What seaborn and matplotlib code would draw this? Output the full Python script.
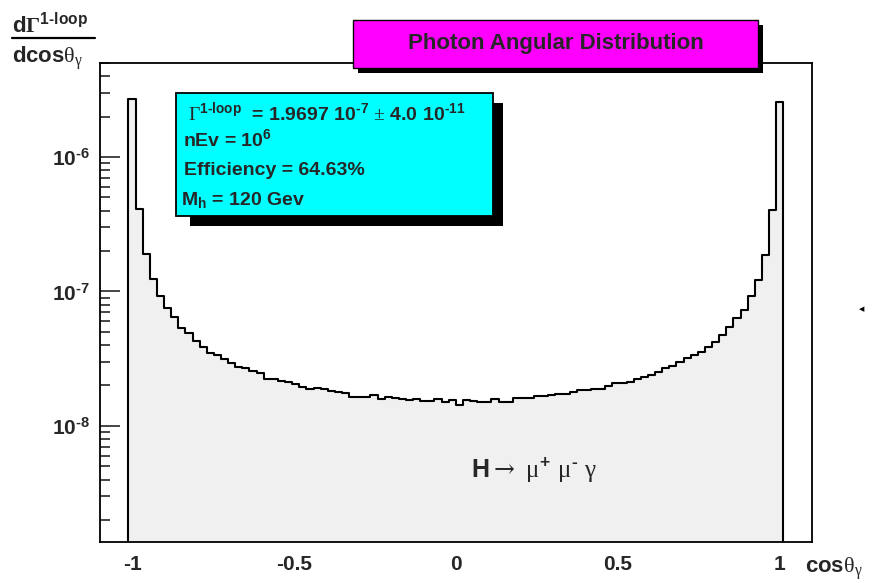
import numpy as np
import pandas as pd
import seaborn as sns
import matplotlib
matplotlib.use("Agg")
import matplotlib.pyplot as plt
from matplotlib.patches import Rectangle
from matplotlib.lines import Line2D
from matplotlib.ticker import FixedLocator, FixedFormatter, NullFormatter

# ---------------- data ----------------
hist_lo, hist_hi = -1.012, 1.012          # range of the filled bins
dgamma = [
    2.70e-6, 4.09e-7, 1.89e-7, 1.23e-7, 9.26e-8, 7.50e-8, 6.43e-8, 5.38e-8, 4.89e-8, 4.29e-8,
    3.89e-8, 3.51e-8, 3.37e-8, 3.13e-8, 2.92e-8, 2.76e-8, 2.69e-8, 2.56e-8, 2.49e-8, 2.22e-8,
    2.22e-8, 2.16e-8, 2.14e-8, 2.04e-8, 1.94e-8, 1.87e-8, 1.91e-8, 1.87e-8, 1.83e-8, 1.79e-8,
    1.77e-8, 1.65e-8, 1.65e-8, 1.65e-8, 1.69e-8, 1.59e-8, 1.65e-8, 1.62e-8, 1.60e-8, 1.56e-8,
    1.59e-8, 1.54e-8, 1.54e-8, 1.59e-8, 1.50e-8, 1.56e-8, 1.43e-8, 1.56e-8, 1.53e-8, 1.50e-8,
    1.50e-8, 1.58e-8, 1.52e-8, 1.52e-8, 1.61e-8, 1.62e-8, 1.62e-8, 1.67e-8, 1.67e-8, 1.69e-8,
    1.72e-8, 1.73e-8, 1.80e-8, 1.85e-8, 1.85e-8, 1.87e-8, 1.88e-8, 1.98e-8, 2.08e-8, 2.10e-8,
    2.14e-8, 2.24e-8, 2.33e-8, 2.39e-8, 2.53e-8, 2.69e-8, 2.79e-8, 3.01e-8, 3.19e-8, 3.37e-8,
    3.57e-8, 3.89e-8, 4.23e-8, 4.75e-8, 5.47e-8, 6.32e-8, 7.29e-8, 9.26e-8, 1.22e-7, 1.87e-7,
    4.04e-7, 2.55e-6,
]
xticks_major = [-1, -0.5, 0, 0.5, 1]
xtick_labels = ["-1", "-0.5", "0", "0.5", "1"]
yticks_major = [1e-8, 1e-7, 1e-6]
ytick_labels = [r"$10^{\text{-}8}$", r"$10^{\text{-}7}$", r"$10^{\text{-}6}$"]
title_text = "Photon Angular Distribution"
stats_lines = [
    r"$\mathsf{\Gamma}^{1\text{-}loop}$  = 1.9697 10$^{\text{-}7}$ $\mathsf{\pm}$ 4.0 10$^{\text{-}11}$",
    r"nEv = 10$^{6}$",
    r"Efficiency = 64.63%",
    r"M$_{h}$ = 120 Gev",
]
process_text = (r"H$\mathtt{\rightarrow}$ $\mathsf{\mu}^{+}$ $\mathsf{\mu}^{\text{-}}$ "
                r"$\mathsf{\gamma}$")

# ---------------- style ----------------
sns.set_style("white")
plt.rcParams["font.family"] = ["Liberation Sans", "DejaVu Sans"]
plt.rcParams["mathtext.fontset"] = "custom"
plt.rcParams["mathtext.rm"] = "Liberation Sans:bold"
plt.rcParams["mathtext.bf"] = "Liberation Sans:bold"
plt.rcParams["mathtext.it"] = "Liberation Sans:bold"
plt.rcParams["mathtext.sf"] = "Liberation Serif:weight=normal"
plt.rcParams["mathtext.tt"] = "DejaVu Serif:weight=normal"
plt.rcParams["mathtext.cal"] = "Liberation Serif:bold"
plt.rcParams["mathtext.default"] = "rm"

W, H = 875, 583
fig = plt.figure(figsize=(W / 100, H / 100), dpi=100)


def fx(x):
    return x / W


def fy(y):
    return 1 - y / H


ax = fig.add_axes([fx(100), fy(542), fx(811.7 - 100), (542 - 63) / H])

n = len(dgamma)
edges = [float(e) for e in np.linspace(hist_lo, hist_hi, n + 1)]
centers = [0.5 * (edges[i] + edges[i + 1]) for i in range(n)]
df = pd.DataFrame({"cos": centers, "w": dgamma})

ax.set_yscale("log")
sns.histplot(data=df, x="cos", weights="w", bins=edges, element="step", fill=True,
             color="#f0f0f0", alpha=1, edgecolor="black", linewidth=1.5, ax=ax)

ax.set_xlim(-1.1, 1.1)
ax.set_ylim(1.372e-9, 5.0e-6)
ax.set_xlabel("")
ax.set_ylabel("")

for s in ax.spines.values():
    s.set_linewidth(1.3)
    s.set_color("black")

ax.xaxis.set_major_locator(FixedLocator(xticks_major))
ax.xaxis.set_major_formatter(FixedFormatter(xtick_labels))
ax.xaxis.set_minor_locator(FixedLocator(np.round(np.arange(-1.0, 1.01, 0.1), 2)))
ax.yaxis.set_major_locator(FixedLocator(yticks_major))
ax.yaxis.set_major_formatter(FixedFormatter(ytick_labels))
ax.yaxis.set_minor_locator(matplotlib.ticker.LogLocator(base=10, subs=np.arange(2, 10), numticks=20))
ax.yaxis.set_minor_formatter(NullFormatter())

ax.tick_params(axis="x", which="major", direction="in", length=10.8, width=1.2,
               labelsize=15, pad=9, bottom=True, top=False)
ax.tick_params(axis="x", which="minor", direction="in", length=5.3, width=1.2,
               bottom=True, top=False)
ax.tick_params(axis="y", which="major", direction="in", length=14.4, width=1.2,
               labelsize=15, pad=7, left=True, right=False)
ax.tick_params(axis="y", which="minor", direction="in", length=7.2, width=1.2,
               left=True, right=False)
for lab in ax.get_xticklabels() + ax.get_yticklabels():
    lab.set_fontweight("bold")

# ---------------- title box ----------------
fig.add_artist(Rectangle((fx(358), fy(73)), fx(405), (73 - 25) / H, transform=fig.transFigure,
                         facecolor="black", edgecolor="none", zorder=5))
fig.add_artist(Rectangle((fx(353), fy(68)), fx(405), (68 - 20) / H, transform=fig.transFigure,
                         facecolor="#ff00ff", edgecolor="black", linewidth=1.0, zorder=6))
fig.text(fx(555.5), fy(44), title_text, ha="center", va="center", fontsize=16,
         fontweight="bold", zorder=7)

# ---------------- stats box ----------------
fig.add_artist(Rectangle((fx(190), fy(226)), fx(313), (226 - 103) / H, transform=fig.transFigure,
                         facecolor="black", edgecolor="none", zorder=5))
fig.add_artist(Rectangle((fx(176), fy(216)), fx(317), (216 - 93) / H, transform=fig.transFigure,
                         facecolor="#00ffff", edgecolor="black", linewidth=1.3, zorder=6))
stat_pos = [(188, 120), (183, 146), (184, 175), (181, 205)]
for (px, py), txt in zip(stat_pos, stats_lines):
    fig.text(fx(px), fy(py), txt, ha="left", va="baseline", fontsize=14,
             fontweight="bold", zorder=7)

# ---------------- axis titles ----------------
fig.text(fx(12), fy(33), r"d$\mathcal{\Gamma}^{1\text{-}loop}$", ha="left", va="baseline",
         fontsize=16, fontweight="bold")
fig.add_artist(Line2D([fx(12), fx(95)], [fy(37.5), fy(37.5)], transform=fig.transFigure,
                      color="black", linewidth=1.6))
fig.text(fx(12), fy(63), r"dcos$\mathsf{\theta}_{\mathsf{\gamma}}$", ha="left", va="baseline",
         fontsize=16, fontweight="bold")
fig.text(fx(805), fy(573), r"cos$\mathsf{\theta}_{\mathsf{\gamma}}$", ha="left", va="baseline",
         fontsize=16, fontweight="bold")

# ---------------- process label ----------------
fig.text(fx(471), fy(478), process_text, ha="left", va="baseline", fontsize=18,
         fontweight="bold", zorder=7)

# small marker at the right edge
fig.text(fx(862), fy(309), "\u25C0", ha="center", va="center", fontsize=5,
         family="DejaVu Sans", color="black")

fig.savefig("out.png", dpi=100)
